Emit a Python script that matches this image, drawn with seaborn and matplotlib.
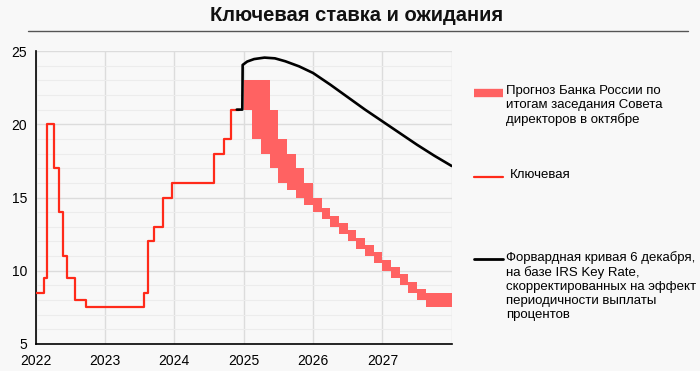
import numpy as np
import pandas as pd
import matplotlib
matplotlib.use("Agg")
import matplotlib.pyplot as plt
from matplotlib.lines import Line2D
import seaborn as sns

# Key rate history (decimal years, % ), step changes
key_t = [2022.0, 2022.125, 2022.16, 2022.27, 2022.34, 2022.40, 2022.45, 2022.56,
         2022.72, 2023.56, 2023.62, 2023.71, 2023.83, 2023.96, 2024.57, 2024.71,
         2024.82, 2024.93]
key_rate = [8.5, 9.5, 20, 17, 14, 11, 9.5, 8, 7.5, 8.5, 12, 13, 15, 16, 18, 19, 21, 21]

# Forward curve (Dec 6)
fwd_t = [2024.90, 2024.98, 2024.985, 2025.05, 2025.15, 2025.30, 2025.45, 2025.60,
         2025.80, 2026.0, 2026.25, 2026.5, 2026.75, 2027.0, 2027.25, 2027.5,
         2027.75, 2028.0]
fwd_rate = [21.0, 21.0, 24.05, 24.28, 24.45, 24.55, 24.5, 24.3,
            23.95, 23.5, 22.7, 21.85, 21.0, 20.2, 19.4, 18.6, 17.85, 17.15]

# Bank of Russia forecast band (October meeting)
band_t = [2025.0, 2025.125, 2025.25, 2025.375, 2025.5, 2025.625, 2025.75, 2025.875,
          2026.0, 2026.125, 2026.25, 2026.375, 2026.5, 2026.625, 2026.75, 2026.875,
          2027.0, 2027.125, 2027.25, 2027.375, 2027.5, 2027.625, 2027.75, 2027.875,
          2028.0]
band_hi = [23, 23, 23, 21, 19, 18, 17, 16, 15, 14.25, 13.75, 13.25, 12.75, 12.25,
           11.75, 11.25, 10.75, 10.25, 9.75, 9.25, 8.75, 8.5, 8.5, 8.5, 8.5]
band_lo = [21, 19, 18, 17, 16, 15.5, 15, 14.5, 14, 13.5, 13, 12.5, 12, 11.5,
           11, 10.5, 10, 9.5, 9, 8.5, 8, 7.5, 7.5, 7.5, 7.5]

year_ticks = [2022, 2023, 2024, 2025, 2026, 2027, 2028]
year_labels = ["2022", "2023", "2024", "2025", "2026", "2027", ""]

bg = "#F8F8F8"
band_color = "#FF6262"
key_color = "#FF2A1A"

sns.set_theme(style="whitegrid")
plt.rcParams["font.family"] = ["Liberation Sans", "DejaVu Sans"]

fig = plt.figure(figsize=(7, 3.71), dpi=100, facecolor=bg)
ax = fig.add_axes([0.051, 0.0728, 0.5943, 0.7897])
ax.set_facecolor(bg)

key_df = pd.DataFrame({"t": key_t, "rate": key_rate})
fwd_df = pd.DataFrame({"t": fwd_t, "rate": fwd_rate})

ax.fill_between(band_t, band_lo, band_hi, step="post", color=band_color,
                linewidth=0, zorder=2)
sns.lineplot(data=key_df, x="t", y="rate", ax=ax, color=key_color, linewidth=1.6,
             drawstyle="steps-post", zorder=3)
sns.lineplot(data=fwd_df, x="t", y="rate", ax=ax, color="black", linewidth=1.9,
             sort=False, zorder=4)

ax.set_xlim(2022, 2028)
ax.set_ylim(5, 25)
ax.set_xticks(year_ticks)
ax.set_xticklabels(year_labels)
ax.set_yticks([5, 10, 15, 20, 25])
ax.set_yticks(range(5, 26), minor=True)
ax.set_xlabel("")
ax.set_ylabel("")

ax.grid(which="major", color="#DCDCDC", linewidth=1.0)
ax.grid(which="minor", axis="y", color="#ECECEC", linewidth=0.8)
ax.set_axisbelow(True)

for s in ["top", "right"]:
    ax.spines[s].set_visible(False)
for s in ["left", "bottom"]:
    ax.spines[s].set_visible(True)
    ax.spines[s].set_color("black")
    ax.spines[s].set_linewidth(1.2)
ax.tick_params(axis="both", which="major", direction="out", length=4, width=1,
               color="black", labelsize=10, labelcolor="black")
ax.tick_params(axis="x", which="major", pad=3)
ax.tick_params(axis="y", which="major", pad=2)
ax.tick_params(axis="y", which="minor", length=0)

# Title and rule under it
fig.text(0.51, 0.958, "Ключевая ставка и ожидания", ha="center", va="center",
         fontsize=14.5, fontweight="bold", color="#111111")
fig.add_artist(Line2D([0.04, 0.983], [0.917, 0.917], transform=fig.transFigure,
                      color="#555555", linewidth=1.0))

# Legend on the right
W, H = 700, 371
def fx(px):
    return px / W
def fy(py):
    return 1 - py / H

entries = [
    (93, dict(color=band_color, linewidth=6, solid_capstyle="butt"), 506,
     "Прогноз Банка России по\nитогам заседания Совета\nдиректоров в октябре"),
    (177, dict(color=key_color, linewidth=1.6), 510, "Ключевая"),
    (259, dict(color="black", linewidth=2.0), 506,
     "Форвардная кривая 6 декабря,\nна базе IRS Key Rate,\nскорректированных на эффект\n"
     "периодичности выплаты\nпроцентов"),
]
for py, style, tx, label in entries:
    fig.add_artist(Line2D([fx(474), fx(503)], [fy(py), fy(py)],
                          transform=fig.transFigure, **style))
    fig.text(fx(tx), fy(py - 8), label, ha="left", va="top", fontsize=9.5,
             color="black", linespacing=1.22)

fig.savefig("out.png", dpi=100, facecolor=bg)
